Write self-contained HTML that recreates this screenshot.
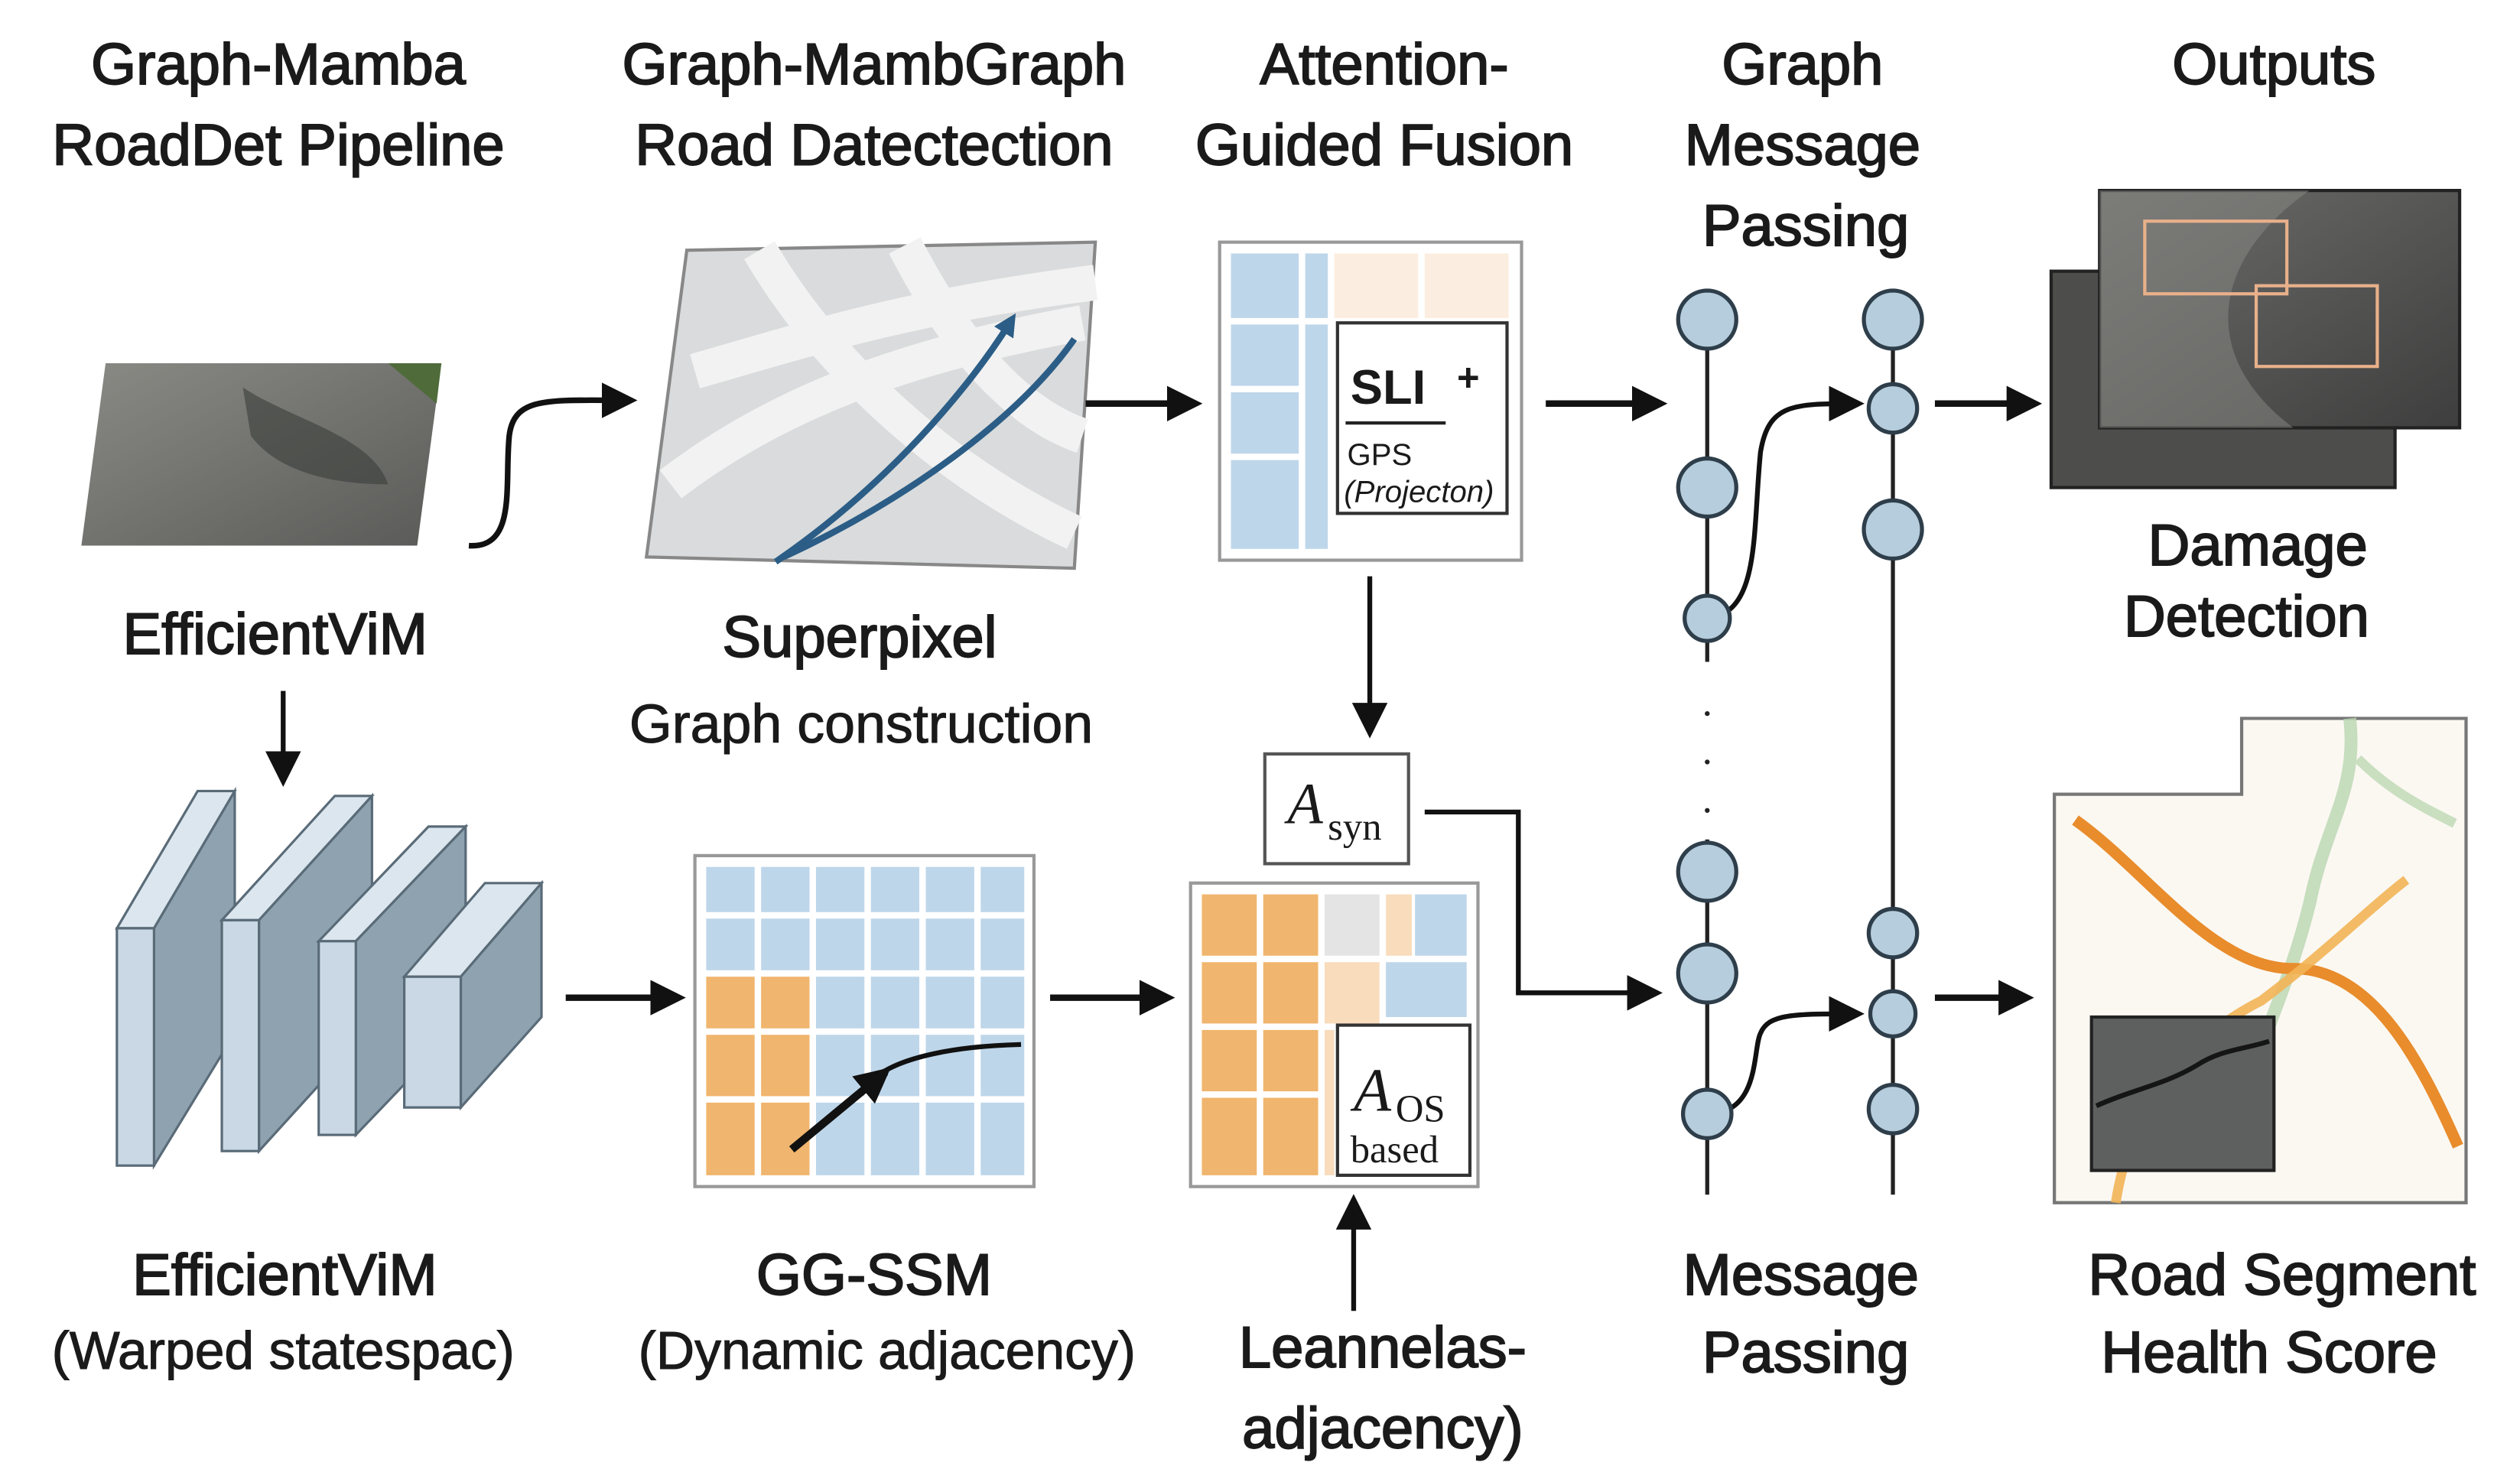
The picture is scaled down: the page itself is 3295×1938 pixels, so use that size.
<!DOCTYPE html>
<html><head><meta charset="utf-8">
<style>
html,body{margin:0;padding:0;background:#fff;}
svg{display:block;}
text{font-family:"Liberation Sans",sans-serif;fill:#1a1a1a;}
.t{font-size:36px;font-weight:normal;text-anchor:middle;stroke:#1a1a1a;stroke-width:0.9px;}
.s{font-size:34px;text-anchor:middle;stroke:#1a1a1a;stroke-width:0.5px;}
</style></head><body>
<svg width="3295" height="1938" viewBox="0 0 1560 918" xmlns="http://www.w3.org/2000/svg">
<defs>
<marker id="a" viewBox="0 0 10 10" refX="8" refY="5" markerWidth="22" markerHeight="22" markerUnits="userSpaceOnUse" orient="auto"><path d="M0,0 L10,5 L0,10 z" fill="#111"/></marker>
<marker id="ab" viewBox="0 0 10 10" refX="5" refY="5" markerWidth="14" markerHeight="14" markerUnits="userSpaceOnUse" orient="auto"><path d="M0,0 L10,5 L0,10 z" fill="#2b5d86"/></marker>
<linearGradient id="road" x1="0" y1="0" x2="1" y2="1"><stop offset="0" stop-color="#8a8a85"/><stop offset="1" stop-color="#5a5a58"/></linearGradient>
<linearGradient id="dmg" x1="0" y1="0" x2="1" y2="1"><stop offset="0" stop-color="#6e6e6c"/><stop offset="1" stop-color="#3e3e3e"/></linearGradient>
</defs>

<text class="t" x="172" y="52">Graph-Mamba</text>
<text class="t" x="172" y="102">RoadDet Pipeline</text>
<text class="t" x="541" y="52">Graph-MambGraph</text>
<text class="t" x="541" y="102">Road Datectection</text>
<text class="t" x="857" y="52">Attention-</text>
<text class="t" x="857" y="102">Guided Fusion</text>
<text class="t" x="1116" y="52">Graph</text>
<text class="t" x="1116" y="102">Message</text>
<text class="t" x="1118" y="152">Passing</text>
<text class="t" x="1408" y="52">Outputs</text>

<polygon points="65,225 273,225 258,338 50,338" fill="url(#road)"/>
<path d="M150,240 C180,260 230,270 240,300 C200,300 170,290 155,270 Z" fill="#3b3d3b" opacity="0.6"/>
<polygon points="240,225 273,225 270,250" fill="#4f6b3a"/>
<path d="M290,338 C320,340 312,300 315,270 C318,245 340,248 390,248" fill="none" stroke="#111" stroke-width="3.5" marker-end="url(#a)"/>
<text class="t" x="170" y="405">EfficientViM</text>
<line x1="175" y1="428" x2="175" y2="483" stroke="#111" stroke-width="3" marker-end="url(#a)"/>

<polygon points="425,155 678,150 665,352 400,345" fill="#d9dbdc" stroke="#888" stroke-width="2"/>
<path d="M430,230 C500,210 560,190 678,175 M415,300 C480,250 560,220 670,200 M470,155 C520,240 600,300 665,330 M560,152 C600,230 640,260 670,270" stroke="#f2f2f2" stroke-width="22" fill="none"/>
<path d="M480,348 C550,300 600,240 625,200" stroke="#2b5d86" stroke-width="4" fill="none" marker-end="url(#ab)"/>
<path d="M485,345 C560,310 630,260 665,210" stroke="#2b5d86" stroke-width="4" fill="none"/>
<text class="t" x="532" y="407">Superpixel</text>
<text class="s" x="533" y="460">Graph construction</text>
<line x1="672" y1="250" x2="740" y2="250" stroke="#111" stroke-width="4" marker-end="url(#a)"/>

<rect x="755" y="150" width="187" height="197" fill="#fff" stroke="#999" stroke-width="2"/>
<g fill="#bed6ea"><rect x="762" y="157" width="42" height="40"/><rect x="808" y="157" width="14" height="40"/><rect x="762" y="201" width="42" height="38"/><rect x="762" y="243" width="42" height="38"/><rect x="762" y="285" width="42" height="55"/><rect x="808" y="201" width="14" height="139"/></g>
<g fill="#fbeee0"><rect x="826" y="157" width="52" height="40"/><rect x="882" y="157" width="52" height="40"/></g>
<rect x="828" y="200" width="105" height="118" fill="#fff" stroke="#333" stroke-width="2"/>
<text x="836" y="250" style="font-size:30px;font-weight:bold">SLI</text><text x="902" y="242" style="font-size:24px;font-weight:bold">+</text>
<line x1="833" y1="262" x2="895" y2="262" stroke="#222" stroke-width="2"/>
<text x="834" y="288" style="font-size:19px">GPS</text>
<text x="832" y="311" style="font-size:19px;font-style:italic">(Projecton)</text>
<line x1="848" y1="357" x2="848" y2="453" stroke="#111" stroke-width="3" marker-end="url(#a)"/>

<rect x="783" y="467" width="89" height="68" fill="#fff" stroke="#555" stroke-width="2"/>
<text x="797" y="510" style="font-family:'Liberation Serif',serif;font-size:36px;font-style:italic">A</text>
<text x="822" y="520" style="font-family:'Liberation Serif',serif;font-size:24px">syn</text>
<path d="M882,503 H940 V615 H1025" fill="none" stroke="#111" stroke-width="3" marker-end="url(#a)"/>

<g stroke="#5a6b78" stroke-width="1.5">
<polygon points="72,575 95,575 145,490 122,490" fill="#dbe6ee"/><polygon points="95,575 145,490 145,640 95,722" fill="#8fa2b0"/><rect x="72" y="575" width="23" height="147" fill="#c9d8e4"/>
<polygon points="137,570 160,570 230,493 207,493" fill="#dbe6ee"/><polygon points="160,570 230,493 230,636 160,713" fill="#8fa2b0"/><rect x="137" y="570" width="23" height="143" fill="#c9d8e4"/>
<polygon points="197,583 220,583 288,512 265,512" fill="#dbe6ee"/><polygon points="220,583 288,512 288,632 220,703" fill="#8fa2b0"/><rect x="197" y="583" width="23" height="120" fill="#c9d8e4"/>
<polygon points="250,605 285,605 335,547 300,547" fill="#dbe6ee"/><polygon points="285,605 335,547 335,630 285,686" fill="#8fa2b0"/><rect x="250" y="605" width="35" height="81" fill="#c9d8e4"/>
</g>
<line x1="350" y1="618" x2="420" y2="618" stroke="#111" stroke-width="4" marker-end="url(#a)"/>

<rect x="430" y="530" width="210" height="205" fill="#fff" stroke="#999" stroke-width="2"/>
<g fill="#bed6ea">
<rect x="437" y="537" width="30" height="28"/><rect x="471" y="537" width="30" height="28"/><rect x="505" y="537" width="30" height="28"/><rect x="539" y="537" width="30" height="28"/><rect x="573" y="537" width="30" height="28"/><rect x="607" y="537" width="27" height="28"/>
<rect x="437" y="569" width="30" height="32"/><rect x="471" y="569" width="30" height="32"/><rect x="505" y="569" width="30" height="32"/><rect x="539" y="569" width="30" height="32"/><rect x="573" y="569" width="30" height="32"/><rect x="607" y="569" width="27" height="32"/>
<rect x="505" y="605" width="30" height="32"/><rect x="539" y="605" width="30" height="32"/><rect x="573" y="605" width="30" height="32"/><rect x="607" y="605" width="27" height="32"/>
<rect x="505" y="641" width="30" height="38"/><rect x="539" y="641" width="30" height="38"/><rect x="573" y="641" width="30" height="38"/><rect x="607" y="641" width="27" height="38"/>
<rect x="505" y="683" width="30" height="45"/><rect x="539" y="683" width="30" height="45"/><rect x="573" y="683" width="30" height="45"/><rect x="607" y="683" width="27" height="45"/>
</g>
<g fill="#f0b56e">
<rect x="437" y="605" width="30" height="32"/><rect x="471" y="605" width="30" height="32"/>
<rect x="437" y="641" width="30" height="38"/><rect x="471" y="641" width="30" height="38"/>
<rect x="437" y="683" width="30" height="45"/><rect x="471" y="683" width="30" height="45"/>
</g>
<path d="M632,647 C590,648 560,655 545,665" stroke="#111" stroke-width="3" fill="none"/>
<line x1="490" y1="712" x2="548" y2="664" stroke="#111" stroke-width="5" marker-end="url(#a)"/>
<line x1="650" y1="618" x2="723" y2="618" stroke="#111" stroke-width="4" marker-end="url(#a)"/>

<rect x="737" y="547" width="178" height="188" fill="#fff" stroke="#999" stroke-width="2"/>
<g fill="#f0b56e"><rect x="744" y="554" width="34" height="38"/><rect x="782" y="554" width="34" height="38"/><rect x="744" y="596" width="34" height="38"/><rect x="782" y="596" width="34" height="38"/><rect x="744" y="638" width="34" height="38"/><rect x="782" y="638" width="34" height="38"/><rect x="744" y="680" width="34" height="48"/><rect x="782" y="680" width="34" height="48"/></g>
<g fill="#f8dcbc"><rect x="820" y="596" width="34" height="38"/><rect x="820" y="638" width="6" height="90"/></g>
<rect x="820" y="554" width="34" height="38" fill="#e4e4e4"/>
<rect x="858" y="554" width="16" height="38" fill="#f8dcbc"/><rect x="876" y="554" width="32" height="38" fill="#bed6ea"/><rect x="858" y="596" width="50" height="34" fill="#bed6ea"/>
<rect x="828" y="635" width="82" height="93" fill="#fff" stroke="#333" stroke-width="2"/>
<text x="838" y="688" style="font-family:'Liberation Serif',serif;font-size:38px;font-style:italic">A</text>
<text x="864" y="695" style="font-family:'Liberation Serif',serif;font-size:24px">OS</text>
<text x="836" y="720" style="font-family:'Liberation Serif',serif;font-size:24px">based</text>
<line x1="838" y1="812" x2="838" y2="744" stroke="#111" stroke-width="3" marker-end="url(#a)"/>

<text class="t" x="176" y="802">EfficientViM</text>
<text class="s" x="175" y="848" style="font-size:33px">(Warped statespac)</text>
<text class="t" x="541" y="802">GG-SSM</text>
<text class="s" x="549" y="848" style="font-size:33px">(Dynamic adjacency)</text>
<text class="t" x="856" y="847">Leannelas-</text>
<text class="t" x="856" y="897">adjacency)</text>

<line x1="957" y1="250" x2="1028" y2="250" stroke="#111" stroke-width="4" marker-end="url(#a)"/>
<line x1="1057" y1="180" x2="1057" y2="410" stroke="#222" stroke-width="2.5"/>
<line x1="1057" y1="520" x2="1057" y2="740" stroke="#222" stroke-width="2.5"/>
<line x1="1172" y1="180" x2="1172" y2="740" stroke="#222" stroke-width="2.5"/>
<g fill="#222"><circle cx="1057" cy="442" r="1.5"/><circle cx="1057" cy="472" r="1.5"/><circle cx="1057" cy="502" r="1.5"/></g>
<path d="M1057,383 C1090,380 1085,330 1090,280 C1095,250 1110,250 1150,250" fill="none" stroke="#111" stroke-width="3" marker-end="url(#a)"/>
<path d="M1057,690 C1090,690 1085,650 1090,640 C1095,628 1110,628 1150,628" fill="none" stroke="#111" stroke-width="3" marker-end="url(#a)"/>
<g fill="#b5cddd" stroke="#2e3e4a" stroke-width="2.5">
<circle cx="1057" cy="198" r="18"/><circle cx="1057" cy="302" r="18"/><circle cx="1057" cy="383" r="14"/>
<circle cx="1057" cy="540" r="18"/><circle cx="1057" cy="603" r="18"/><circle cx="1057" cy="690" r="15"/>
<circle cx="1172" cy="198" r="18"/><circle cx="1172" cy="253" r="15"/><circle cx="1172" cy="328" r="18"/>
<circle cx="1172" cy="578" r="15"/><circle cx="1172" cy="628" r="14"/><circle cx="1172" cy="687" r="15"/>
</g>
<line x1="1198" y1="250" x2="1260" y2="250" stroke="#111" stroke-width="4" marker-end="url(#a)"/>
<line x1="1198" y1="618" x2="1255" y2="618" stroke="#111" stroke-width="4" marker-end="url(#a)"/>
<text class="t" x="1115" y="802">Message</text>
<text class="t" x="1118" y="850">Passing</text>

<rect x="1270" y="168" width="213" height="134" fill="#4d4d4c" stroke="#222" stroke-width="2"/>
<rect x="1300" y="118" width="223" height="147" fill="url(#dmg)" stroke="#222" stroke-width="2"/>
<path d="M1300,118 H1430 C1370,160 1360,220 1420,265 H1300 Z" fill="#8a8985" opacity="0.5"/>
<rect x="1328" y="137" width="88" height="45" fill="none" stroke="#e8b08a" stroke-width="2"/>
<rect x="1397" y="177" width="75" height="50" fill="none" stroke="#e8b08a" stroke-width="2"/>
<text class="t" x="1398" y="350">Damage</text>
<text class="t" x="1391" y="394">Detection</text>

<polygon points="1272,492 1388,492 1388,445 1527,445 1527,745 1272,745" fill="#fbf8f2" stroke="#777" stroke-width="2"/>
<path d="M1455,445 C1460,490 1440,510 1430,560 C1420,600 1410,620 1400,650" stroke="#b9d6b0" stroke-width="8" fill="none" opacity="0.8"/>
<path d="M1460,470 C1480,490 1500,500 1520,510" stroke="#c9dfc0" stroke-width="6" fill="none"/>
<path d="M1285,508 C1330,540 1370,600 1420,600 C1470,600 1500,660 1522,710" stroke="#e88c2c" stroke-width="7" fill="none"/>
<path d="M1310,745 C1320,680 1360,640 1400,620 C1440,590 1470,560 1490,545" stroke="#f2b457" stroke-width="6" fill="none" opacity="0.9"/>
<rect x="1295" y="630" width="113" height="95" fill="#5e605f" stroke="#222" stroke-width="2"/>
<path d="M1298,685 C1320,675 1340,672 1360,660 C1375,650 1390,650 1405,645" stroke="#151515" stroke-width="3" fill="none"/>
<text class="t" x="1413" y="802">Road Segment</text>
<text class="t" x="1405" y="850">Health Score</text>
</svg>
</body></html>
